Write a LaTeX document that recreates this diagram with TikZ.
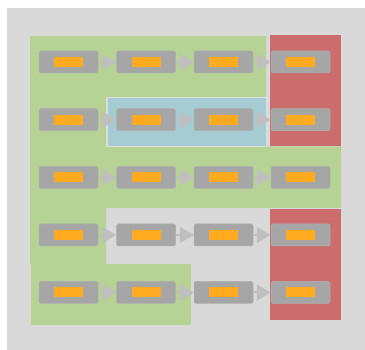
\documentclass[tikz,border=0pt]{standalone}
\usetikzlibrary{arrows.meta}
\definecolor{bggray}{HTML}{D9D9D9}
\definecolor{grn}{HTML}{B6D395}
\definecolor{rd}{HTML}{CC6D6D}
\definecolor{bl}{HTML}{A4CCD2}
\definecolor{boxgray}{HTML}{A6A6A6}
\definecolor{org}{HTML}{FFAA1F}
\definecolor{arrgray}{HTML}{BFBFBF}
\definecolor{edge}{HTML}{DDDDDD}
\tikzset{
  outerbox/.style={fill=boxgray, draw=boxgray!90!white, line width=0.5pt, rounded corners=1.5pt, minimum width=59pt, minimum height=22pt, inner sep=0pt},
  innerbox/.style={fill=org, minimum width=29pt, minimum height=10pt, inner sep=0pt},
  flow/.style={draw=arrgray, line width=2pt, -{Triangle[width=16pt,length=14pt]}, shorten <=0.5pt},
}
\begin{document}
\begin{tikzpicture}[x=1pt,y=-1pt]
\useasboundingbox (0,0) rectangle (365,350);
\fill[bggray] (7,8) rectangle (365,350);
% regions
\fill[grn] (30,36) -- (266,36) -- (266,146.5) -- (341,146.5) -- (341,208) -- (106,208) -- (106,264) -- (30,264) -- cycle;
\fill[grn] (31,264) rectangle (191,325);
\fill[bl, draw=edge, line width=1.2pt] (107,97.5) rectangle (266.5,146.5);
\fill[rd] (270,35) rectangle (341,145.7);
\fill[rd] (270,209) rectangle (341,319.7);
% nodes
\foreach \r/\y in {1/62,2/119.7,3/177.3,4/235,5/292.5}{
  \foreach \c/\x in {1/68.5,2/146,3/223.5,4/300.5}{
    \node[outerbox] (b\r\c) at (\x,\y) {};
    \node[innerbox] (i\r\c) at (b\r\c) {};
  }
  \draw[flow] (b\r1.east) -- (b\r2.west);
  \draw[flow] (b\r2.east) -- (b\r3.west);
  \draw[flow] (b\r3.east) -- (b\r4.west);
}
\end{tikzpicture}
\end{document}
